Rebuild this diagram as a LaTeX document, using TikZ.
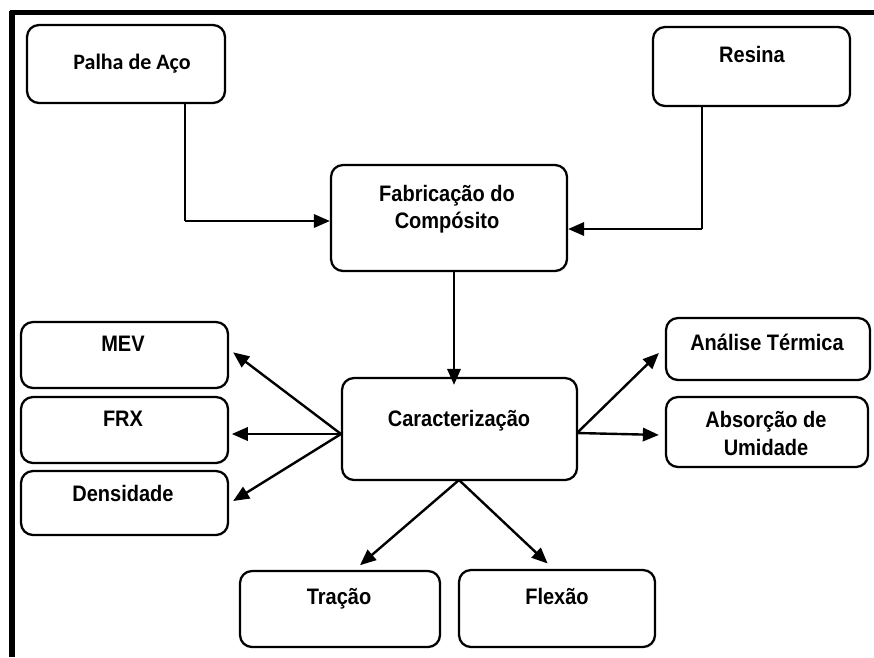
\documentclass[tikz,border=0pt]{standalone}
\usepackage{fontspec}
\setmainfont{Liberation Sans}
\newfontfamily\calfont{Carlito}
\usetikzlibrary{arrows.meta}
\newcommand\tallt[1]{\scalebox{1}[1.12]{#1}}
\begin{document}
\begin{tikzpicture}[x=0.75pt,y=-0.75pt,
  boxst/.style={draw,line width=1.7pt,rounded corners=9pt,inner sep=0pt},
  lbl/.style={font=\bfseries\fontsize{15}{18}\selectfont,align=center,inner sep=0pt,anchor=base},
  arr/.style={line width=1.8pt,-{Triangle[length=12pt,width=10pt]}},
  plain/.style={line width=1.8pt}]
\useasboundingbox (0,0) rectangle (874,657);
\fill[white] (0,0) rectangle (874,657);
% frame
\draw[line width=3.8pt] (10,12.5) -- (874,12.5);
\draw[line width=3.8pt] (12,10.5) -- (12,657);
% boxes
\newcommand\pbox[5]{\node[boxst,minimum width=#4*0.75pt,minimum height=#5*0.75pt] (#1) at (#2,#3) {};}
\pbox{palha}{126}{64}{198}{78}
\pbox{resina}{751.5}{66.5}{197}{79}
\pbox{fab}{449}{218}{236}{106}
\pbox{car}{459.5}{429}{235}{102}
\pbox{mev}{124.5}{355}{207}{66}
\pbox{frx}{124.5}{430}{207}{66}
\pbox{dens}{124.5}{503}{207}{64}
\pbox{ana}{768}{349}{204}{62}
\pbox{abs}{767}{432}{202}{70}
\pbox{tra}{340}{609}{200}{76}
\pbox{fle}{557}{608.5}{196}{77}
% texts
\node[lbl,font=\calfont\bfseries\fontsize{16.5}{19}\selectfont] (tpalha) at (132,69) {Palha de Aço};
\node[lbl] (tresina) at (752,62) {\tallt{Resina}};
\node[lbl] (tfab1) at (447,201) {\tallt{Fabricação do}};
\node[lbl] (tfab2) at (447,228) {\tallt{Compósito}};
\node[lbl] (tcar) at (459,426) {\tallt{Caracterização}};
\node[lbl] (tmev) at (123,351) {\tallt{MEV}};
\node[lbl] (tfrx) at (123,426) {\tallt{FRX}};
\node[lbl] (tdens) at (123,501) {\tallt{Densidade}};
\node[lbl] (tana) at (767,350) {\tallt{Análise Térmica}};
\node[lbl] (tabs1) at (766,427) {\tallt{Absorção de}};
\node[lbl] (tabs2) at (766,455) {\tallt{Umidade}};
\node[lbl] (ttra) at (339,604) {\tallt{Tração}};
\node[lbl] (tfle) at (557,604) {\tallt{Flexão}};
% connectors
\coordinate (pk) at (185,221);
\coordinate (rk) at (702,229);
\coordinate (fk) at (454,0);
\draw[plain] (palha.south -| pk) -- (pk);
\draw[arr] (pk) -- (fab.west |- pk);
\draw[plain] (resina.south -| rk) -- (rk);
\draw[arr] (rk) -- (fab.east |- rk);
\draw[arr] (fab.south -| fk) -- ([yshift=-6pt]car.north -| fk);
\coordinate (cl) at (341,434);
\coordinate (cr) at (577,433);
\coordinate (cb) at (459,480);
\draw[arr] (cl) -- ([xshift=3pt,yshift=2pt]mev.east);
\draw[arr] (cl) -- ([xshift=2pt,yshift=-3pt]frx.east);
\draw[arr] (cl) -- ([xshift=3pt,yshift=1.5pt]dens.east);
\draw[arr] (cr) -- ([xshift=-4.5pt,yshift=-3pt]ana.west);
\draw[arr] (cr) -- ([xshift=-4.5pt,yshift=-2.2pt]abs.west);
\draw[arr] (cb) -- ([xshift=15pt,yshift=3.5pt]tra.north);
\draw[arr] (cb) -- ([xshift=-7pt,yshift=4pt]fle.north);
\end{tikzpicture}
\end{document}
